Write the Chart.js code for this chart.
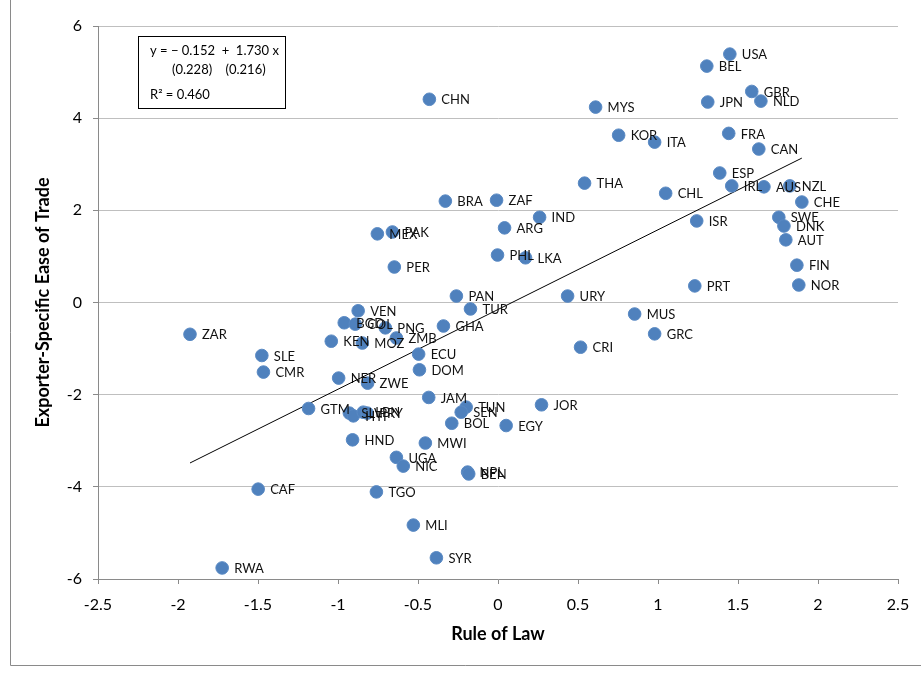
<!DOCTYPE html>
<html>
<head>
<meta charset="utf-8">
<script src="https://cdn.jsdelivr.net/npm/chart.js@4.4.1/dist/chart.umd.min.js"></script>
<style>
  html, body { margin: 0; padding: 0; background: #fff; }
  #wrap { position: relative; width: 921px; height: 675px; }
  canvas { display: block; }
</style>
</head>
<body>
<div id="wrap"><canvas id="c" width="921" height="675"></canvas></div>
<script>
// ---- Data ----
const countries = ["USA","BEL","GBR","JPN","NLD","FRA","CAN","ESP","IRL","AUS","NZL","CHE","SWE","DNK","AUT","FIN","NOR","PRT","ISR","CHL","ITA","KOR","MYS","CHN","THA","BRA","ZAF","IND","ARG","PHL","LKA","MEX","PAK","PER","PAN","TUR","URY","MUS","GRC","CRI","GHA","VEN","BGD","COL","PNG","ZMB","KEN","MOZ","ECU","DOM","NER","ZWE","ZAR","SLE","CMR","GTM","JAM","SLV","HTI","LBN","PRY","TUN","SEN","BOL","EGY","JOR","HND","MWI","UGA","NIC","NPL","BEN","CAF","TGO","MLI","SYR","RWA"];
const ruleOfLaw = [1.449,1.305,1.586,1.311,1.643,1.442,1.630,1.386,1.461,1.662,1.824,1.899,1.755,1.787,1.799,1.868,1.880,1.230,1.242,1.048,0.979,0.754,0.610,-0.429,0.541,-0.329,-0.009,0.260,0.041,-0.003,0.172,-0.754,-0.660,-0.648,-0.260,-0.172,0.435,0.854,0.979,0.516,-0.341,-0.874,-0.961,-0.892,-0.704,-0.635,-1.042,-0.848,-0.496,-0.491,-0.996,-0.815,-1.925,-1.476,-1.466,-1.184,-0.433,-0.929,-0.904,-0.842,-0.817,-0.199,-0.230,-0.289,0.051,0.272,-0.909,-0.454,-0.635,-0.592,-0.190,-0.183,-1.499,-0.760,-0.529,-0.385,-1.724];
const easeOfTrade = [5.39,5.13,4.58,4.35,4.37,3.67,3.33,2.81,2.53,2.51,2.53,2.18,1.85,1.66,1.36,0.81,0.38,0.36,1.77,2.37,3.48,3.63,4.24,4.41,2.59,2.20,2.22,1.85,1.62,1.03,0.97,1.49,1.53,0.77,0.14,-0.14,0.14,-0.25,-0.68,-0.97,-0.51,-0.18,-0.44,-0.47,-0.55,-0.77,-0.84,-0.88,-1.12,-1.46,-1.64,-1.75,-0.69,-1.15,-1.51,-2.30,-2.06,-2.40,-2.46,-2.38,-2.40,-2.27,-2.38,-2.62,-2.67,-2.22,-2.98,-3.05,-3.36,-3.55,-3.68,-3.72,-4.05,-4.11,-4.83,-5.54,-5.76];
const fitIntercept = -0.152;
const fitSlope = 1.730;
const equationLines = ["y = \u2212 0.152  +  1.730 x", "(0.228)    (0.216)", "R\u00B2 = 0.460"];
const xTicks = [-2.5,-2,-1.5,-1,-0.5,0,0.5,1,1.5,2,2.5];
const yTicks = [-6,-4,-2,0,2,4,6];

// ---- Build datasets ----
const scatterData = countries.map((c, i) => ({ x: ruleOfLaw[i], y: easeOfTrade[i], label: c }));
const xMin = Math.min(...ruleOfLaw), xMax = Math.max(...ruleOfLaw);
const fitData = [xMin, xMax].map(x => ({ x: x, y: fitIntercept + fitSlope * x }));

const FONT = "Lato, 'Liberation Sans', sans-serif";

const pointLabels = {
  id: 'pointLabels',
  afterDatasetsDraw(chart) {
    const ctx = chart.ctx;
    const meta = chart.getDatasetMeta(1);
    ctx.save();
    ctx.font = "13px " + FONT;
    ctx.fillStyle = "#111";
    ctx.textAlign = "left";
    ctx.textBaseline = "middle";
    meta.data.forEach((pt, i) => {
      ctx.fillText(scatterData[i].label, pt.x + 12, pt.y + 1);
    });
    ctx.restore();
  }
};

const decor = {
  id: 'decor',
  beforeDraw(chart) {
    const ctx = chart.ctx;
    ctx.save();
    ctx.fillStyle = '#fff';
    ctx.fillRect(0, 0, chart.width, chart.height);
    ctx.strokeStyle = '#8a8a8a';
    ctx.lineWidth = 1;
    ctx.beginPath();
    ctx.moveTo(10.5, 0);
    ctx.lineTo(10.5, 665.5);
    ctx.lineTo(921, 665.5);
    ctx.stroke();
    ctx.restore();
  },
  afterDraw(chart) {
    const ctx = chart.ctx;
    ctx.save();
    ctx.strokeStyle = '#000';
    ctx.lineWidth = 1;
    ctx.strokeRect(138.5, 36.5, 147, 72);
    ctx.fillStyle = '#000';
    ctx.font = "13px " + FONT;
    ctx.textBaseline = 'middle';
    ctx.textAlign = 'left';
    ctx.fillText(equationLines[0], 150, 51);
    ctx.fillText(equationLines[1], 172, 70);
    ctx.fillText(equationLines[2], 150, 95);
    ctx.restore();
  }
};

new Chart(document.getElementById('c'), {
  type: 'scatter',
  data: {
    datasets: [
      {
        type: 'line',
        data: fitData,
        borderColor: '#000',
        borderWidth: 1,
        pointRadius: 0,
        fill: false,
        order: 2
      },
      {
        data: scatterData,
        backgroundColor: '#4F81BD',
        borderColor: '#5a8ac4',
        borderWidth: 1,
        pointRadius: 6.3,
        order: 1
      }
    ]
  },
  options: {
    responsive: false,
    animation: false,
    devicePixelRatio: 1,
    layout: { padding: { left: 0, right: 23, top: 26, bottom: 0 } },
    plugins: { legend: { display: false }, tooltip: { enabled: false } },
    scales: {
      x: {
        type: 'linear',
        min: -2.5, max: 2.5,
        afterBuildTicks: s => { s.ticks = xTicks.map(v => ({ value: v })); },
        afterFit: s => { s.height = 96; },
        ticks: {
          font: { family: FONT, size: 16 },
          color: '#000',
          padding: 11,
          callback: v => String(v)
        },
        grid: { drawOnChartArea: false, drawTicks: true, tickLength: 5, color: '#8a8a8a' },
        border: { color: '#8a8a8a', width: 1 },
        title: {
          display: true,
          text: 'Rule of Law',
          font: { family: FONT, size: 18, weight: 'bold' },
          color: '#000',
          padding: { top: 0, bottom: 30 }
        }
      },
      y: {
        type: 'linear',
        min: -6, max: 6,
        afterBuildTicks: s => { s.ticks = yTicks.map(v => ({ value: v })); },
        afterFit: s => { s.width = 98; },
        ticks: {
          font: { family: FONT, size: 16 },
          color: '#000',
          padding: 11,
          callback: v => String(v)
        },
        grid: { color: '#bfbfbf', tickColor: '#8a8a8a', drawTicks: true, tickLength: 5 },
        border: { color: '#8a8a8a', width: 1 },
        title: {
          display: true,
          text: 'Exporter-Specific Ease of Trade',
          font: { family: FONT, size: 18, weight: 'bold' },
          color: '#000',
          padding: { top: 32, bottom: 0 }
        }
      }
    }
  },
  plugins: [decor, pointLabels]
});
</script>
</body>
</html>
